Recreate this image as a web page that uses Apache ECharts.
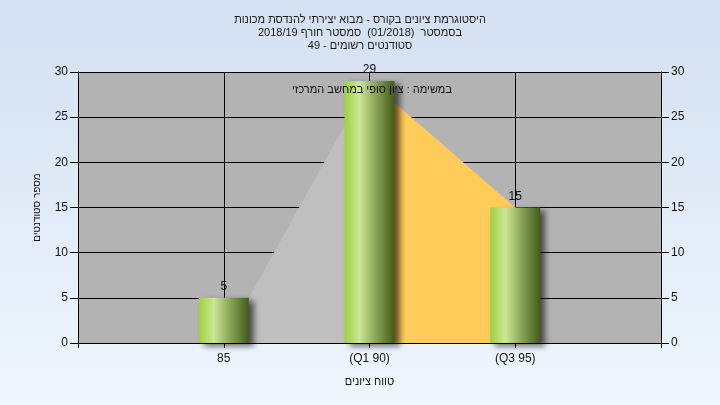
<!DOCTYPE html>
<html>
<head>
<meta charset="utf-8">
<script src="https://cdn.jsdelivr.net/npm/echarts@6/dist/echarts.min.js"></script>
<style>
html,body{margin:0;padding:0;}
#c{width:720px;height:405px;}
</style>
</head>
<body>
<div id="c"></div>
<script>
// ---- data ----
const titleLines = [
  'היסטוגרמת ציונים בקורס - מבוא יצירתי להנדסת מכונות',
  'בסמסטר  (01/2018)  סמסטר חורף 2018/19',
  'סטודנטים רשומים - 49'
];
const subtitleText = 'במשימה : ציון סופי במחשב המרכזי';
const categories = ['', '85', '(Q1 90)', '(Q3 95)', ''];
const counts = [null, 5, 29, 15, null];
const outerRange = [null, 0, 29, null, null];
const quartileRange = [null, null, 29, 15, null];
const yTicks = { min: 0, max: 30, interval: 5 };
const xAxisName = 'טווח ציונים';
const yAxisName = 'מספר סטודנטים';

const FONT = '"Liberation Sans", Arial, sans-serif';
const chart = echarts.init(document.getElementById('c'), null, { renderer: 'canvas' });

const yAxisBase = {
  type: 'value', min: yTicks.min, max: yTicks.max, interval: yTicks.interval,
  axisLine: { show: true, lineStyle: { color: '#000', width: 1 } },
  axisTick: { show: true, length: 8, lineStyle: { color: '#000' } },
  axisLabel: { color: '#111', fontSize: 12, fontFamily: FONT, margin: 10 }
};

chart.setOption({
  animation: false,
  backgroundColor: new echarts.graphic.LinearGradient(0, 0, 0, 1, [
    { offset: 0, color: '#d3e0f1' },
    { offset: 1, color: '#eff6fe' }
  ]),
  title: [
    {
      text: titleLines.join('\n'), left: 'center', top: 8,
      textStyle: { fontSize: 11, fontWeight: 'normal', color: '#1a1a1a', fontFamily: FONT, lineHeight: 13 }
    },
    {
      text: subtitleText, left: 367, top: 79, textAlign: 'center',
      textStyle: { fontSize: 11, fontWeight: 'normal', color: '#111', fontFamily: FONT }
    }
  ],
  grid: {
    left: 78, right: 59, top: 72, bottom: 62,
    show: true, backgroundColor: '#b3b3b3', borderWidth: 0
  },
  xAxis: {
    type: 'category', data: categories, boundaryGap: false,
    name: xAxisName, nameLocation: 'middle', nameGap: 33,
    nameTextStyle: { fontSize: 11, color: '#111', fontFamily: FONT },
    axisLine: { show: true, lineStyle: { color: '#000', width: 1 } },
    axisTick: { show: true, length: 5, interval: 0, lineStyle: { color: '#000' } },
    axisLabel: { color: '#111', fontSize: 12, fontFamily: FONT, margin: 10, interval: 0 },
    splitLine: { show: true, interval: 0, lineStyle: { color: '#000', width: 1 } }
  },
  yAxis: [
    Object.assign({}, yAxisBase, {
      position: 'left',
      name: yAxisName, nameLocation: 'middle', nameGap: 36,
      nameTextStyle: { fontSize: 10, color: '#111', fontFamily: FONT },
      splitLine: { show: true, lineStyle: { color: '#000', width: 1 } }
    }),
    Object.assign({}, yAxisBase, {
      position: 'right',
      splitLine: { show: false }
    })
  ],
  series: [
    {
      type: 'line', data: outerRange, symbol: 'none', z: 1,
      lineStyle: { width: 0 }, areaStyle: { color: '#bfbfbf', opacity: 1 }
    },
    {
      type: 'line', data: quartileRange, symbol: 'none', z: 1,
      lineStyle: { width: 0 }, areaStyle: { color: '#ffcc5a', opacity: 1 }
    },
    {
      type: 'bar', data: counts, barWidth: 50, barGap: '-100%', z: 3,
      itemStyle: {
        color: new echarts.graphic.LinearGradient(0, 0, 1, 0, [
          { offset: 0, color: '#a0cf3e' },
          { offset: 0.3, color: '#cbe696' },
          { offset: 0.65, color: '#86a052' },
          { offset: 1, color: '#445a1a' }
        ]),
        shadowColor: 'rgba(0,0,0,0.6)', shadowBlur: 6, shadowOffsetX: 5, shadowOffsetY: 3
      },
      label: { show: true, position: 'top', distance: 5, color: '#111', fontSize: 12, fontFamily: FONT }
    }
  ]
});
</script>
</body>
</html>
